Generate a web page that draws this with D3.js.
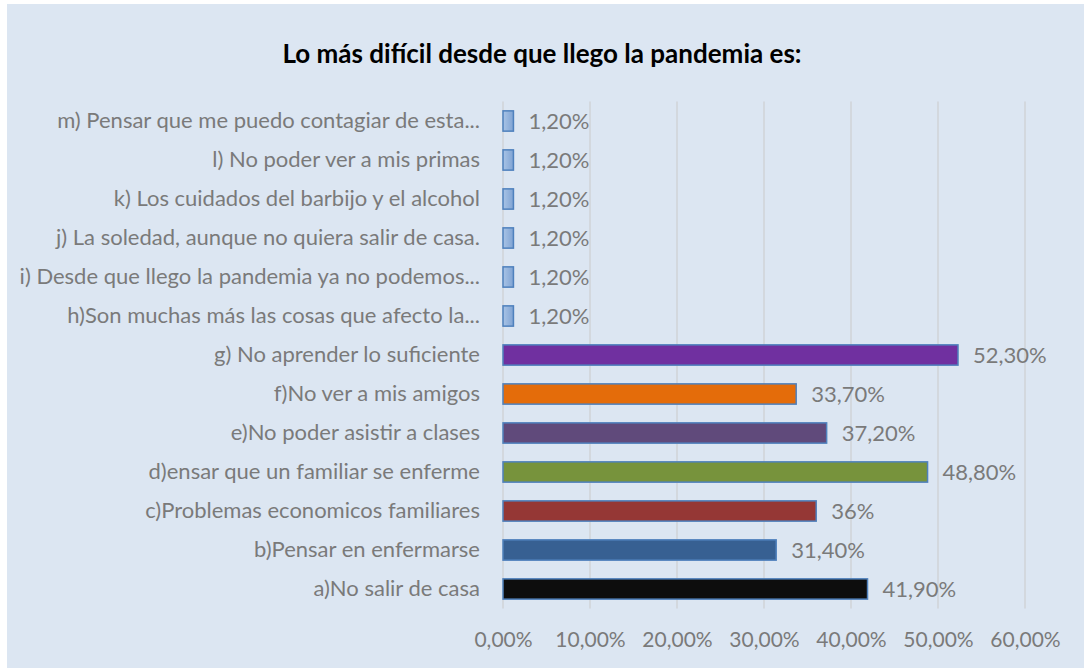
<!DOCTYPE html>
<html>
<head>
<meta charset="utf-8">
<script src="https://cdn.jsdelivr.net/npm/d3@7"></script>
<style>
  body { margin: 0; background: #ffffff; }
  svg { display: block; }
</style>
</head>
<body>
<script>
// categories, bottom to top as in the picture
var categories = [
  "a)No salir de casa",
  "b)Pensar en enfermarse",
  "c)Problemas economicos familiares",
  "d)ensar que un familiar se enferme",
  "e)No poder asistir a clases",
  "f)No ver a mis amigos",
  "g) No aprender lo suficiente",
  "h)Son muchas más las cosas que afecto la...",
  "i) Desde que llego la pandemia ya no podemos...",
  "j) La soledad, aunque no quiera salir de casa.",
  "k) Los cuidados del barbijo y el alcohol",
  "l) No poder ver a mis primas",
  "m) Pensar que me puedo contagiar de esta..."
];
var values = [41.9, 31.4, 36, 48.8, 37.2, 33.7, 52.3, 1.2, 1.2, 1.2, 1.2, 1.2, 1.2];
var valueLabels = ["41,90%", "31,40%", "36%", "48,80%", "37,20%", "33,70%", "52,30%",
                   "1,20%", "1,20%", "1,20%", "1,20%", "1,20%", "1,20%"];
var barColors = ["#0d0d0d", "#376092", "#953735", "#77933c", "#604a7b", "#e46c0a", "#7030a0",
                 "url(#lightBar)", "url(#lightBar)", "url(#lightBar)", "url(#lightBar)", "url(#lightBar)", "url(#lightBar)"];
var ticks = [0, 10, 20, 30, 40, 50, 60];

var W = 1084, H = 668;
var margin = {top: 101.5, left: 503, right: 59, bottom: 59.5};
var font = "Lato, 'Open Sans', sans-serif";

var svg = d3.select("body").append("svg")
  .attr("width", W)
  .attr("height", H);

var defs = svg.append("defs");
var grad = defs.append("linearGradient").attr("id", "lightBar")
  .attr("x1", 0).attr("y1", 0).attr("x2", 1).attr("y2", 0);
grad.append("stop").attr("offset", "0%").attr("stop-color", "#a9c4e6");
grad.append("stop").attr("offset", "100%").attr("stop-color", "#7fa3d3");

//chart background
svg.append("rect")
  .attr("x", 7).attr("y", 4)
  .attr("width", W - 7).attr("height", H - 4)
  .attr("fill", "#dce6f2");

svg.append("text")
  .attr("x", 542).attr("y", 63)
  .attr("text-anchor", "middle")
  .style("font-family", font)
  .style("font-weight", "bold")
  .style("font-size", "26px")
  .attr("fill", "#000")
  .text("Lo más difícil desde que llego la pandemia es:");

var x = d3.scaleLinear().domain([0, 60]).range([margin.left, W - margin.right]);
var y = d3.scaleBand().domain(categories.slice().reverse())
  .range([margin.top, H - margin.bottom])
  .paddingInner(0.48).paddingOuter(0.24);

// gridlines
svg.append("g").selectAll("line").data(ticks).enter()
  .append("line")
  .attr("x1", function(d) { return x(d); })
  .attr("x2", function(d) { return x(d); })
  .attr("y1", margin.top).attr("y2", H - margin.bottom)
  .attr("stroke", "#d0d3d7")
  .attr("stroke-width", 1.5);

// x axis labels
var xAxis = d3.axisBottom(x).tickValues(ticks)
  .tickSize(0).tickPadding(0)
  .tickFormat(function(d) { return d3.format(".2f")(d).replace(".", ",") + "%"; });
var gx = svg.append("g")
  .attr("transform", "translate(0," + 632 + ")")
  .call(xAxis);
gx.select(".domain").remove();
gx.selectAll("text")
  .style("font-family", font)
  .style("font-size", "21px")
  .attr("fill", "#7a7a7a");

// y axis labels
var yAxis = d3.axisLeft(y).tickSize(0).tickPadding(23);
var gy = svg.append("g")
  .attr("transform", "translate(" + margin.left + ",0)")
  .call(yAxis);
gy.select(".domain").remove();
gy.selectAll("text")
  .style("font-family", font)
  .style("font-size", "22px")
  .attr("fill", "#7a7a7a");

var data = categories.map(function(c, i) {
  return {cat: c, v: values[i], lab: valueLabels[i], col: barColors[i]};
});

svg.append("g").selectAll("rect").data(data).enter()
  .append("rect")
  .attr("x", x(0))
  .attr("y", function(d) { return y(d.cat); })
  .attr("width", function(d) { return x(d.v) - x(0); })
  .attr("height", y.bandwidth())
  .attr("fill", function(d) { return d.col; })
  .attr("stroke", "#4f81bd")
  .attr("stroke-width", 1.5);

svg.append("g").selectAll("text").data(data).enter()
  .append("text")
  .attr("x", function(d) { return x(d.v) + 15; })
  .attr("y", function(d) { return y(d.cat) + y.bandwidth() / 2; })
  .attr("dy", "0.35em")
  .style("font-family", font)
  .style("font-size", "22px")
  .attr("fill", "#7a7a7a")
  .text(function(d) { return d.lab; });
</script>
</body>
</html>
